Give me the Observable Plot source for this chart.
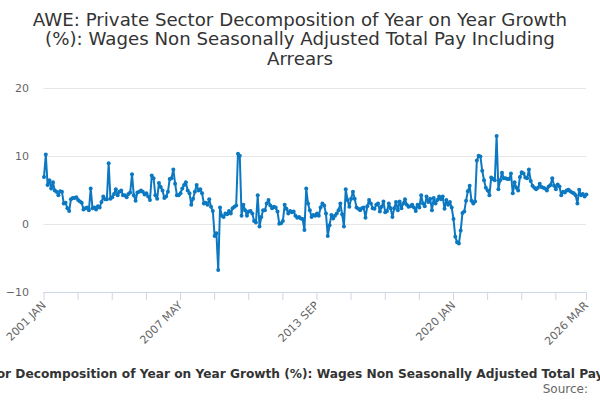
<!DOCTYPE html>
<html>
<head>
<meta charset="utf-8">
<script src="https://cdn.jsdelivr.net/npm/d3@7"></script>
<script src="https://cdn.jsdelivr.net/npm/@observablehq/plot@0.6"></script>
<style>
  html, body { margin: 0; padding: 0; background: #fff; }
  body { width: 600px; height: 400px; overflow: hidden; position: relative; font-family: "DejaVu Sans", sans-serif; }
  #title { position: absolute; top: 10px; left: 0; width: 600px; text-align: center; font-size: 18.2px; line-height: 19.3px; color: #333; }
  #chart { position: absolute; top: 72px; left: 0; }
  #legend { position: absolute; top: 367px; left: 0; width: 600px; display: flex; justify-content: center; }
  #legend span { white-space: nowrap; font-size: 12.2px; font-weight: bold; color: #333; line-height: 14px; }
  #source { position: absolute; top: 382px; right: 12px; font-size: 12px; color: #666; line-height: 14px; white-space: nowrap; }
</style>
</head>
<body>
<div id="title">AWE: Private Sector Decomposition of Year on Year Growth<br>(%): Wages Non Seasonally Adjusted Total Pay Including<br>Arrears</div>
<div id="chart"></div>
<div id="legend"><span>AWE: Private Sector Decomposition of Year on Year Growth (%): Wages Non Seasonally Adjusted Total Pay Including Arrears</span></div>
<div id="source">Source:</div>
<script>
// Monthly values, 2001 JAN .. 2026 MAR
const values2001to2005 = [7.0,10.3,5.8,6.5,5.3,6.2,5.0,4.8,4.3,4.9, 4.8,3.1,3.2,2.4,2.0,3.7,3.9,3.9,4.0,3.6, 3.4,3.2,2.2,2.4,2.5,2.1,5.3,2.4,2.5,2.2, 2.7,2.5,3.3,4.1,3.7,3.7,9.0,3.8,4.0,4.5, 5.2,4.3,4.8,5.0,4.3,4.3,4.0,4.5,4.7,7.4, 4.3,3.5,4.7,4.8];
const values2005to2010 = [5.0,4.8,4.4,4.6,4.1,3.6,7.2,6.8,4.3,3.8, 6.1,5.5,5.0,3.9,4.1,4.8,6.7,6.8,8.1,6.0, 4.3,4.3,4.6,5.3,5.8,6.2,5.0,4.6,2.9,3.8, 4.8,5.8,5.0,5.2,4.6,3.1,3.2,2.9,3.7,2.6, 2.0,-1.7,-1.3,-6.7,2.5,1.3,1.1,1.6,1.5,2.0, 1.6,2.4,2.6,2.8,10.4,10.1];
const values2010to2014 = [1.3,2.9,2.1,1.3,1.9,2.0,1.6,0.5,0.3,4.3, -0.3,1.1,2.1,2.1,3.1,3.6,2.8,2.4,2.6,2.5, 1.9,0.1,0.2,0.5,2.9,2.3,1.6,2.0,1.8,1.9, 1.3,1.0,1.1,0.9,0.8,-0.8,5.3,3.1,2.1,1.1, 1.4,1.3,1.6,1.3,2.5,3.1,2.8,1.6,-1.7,-0.1, 1.4,0.9,1.3,1.6,2.1];
const values2014to2019 = [3.1,1.5,-0.3,5.2,3.6,2.6,3.8,4.8,3.8,2.5, 2.3,2.1,2.4,2.5,1.0,2.7,3.6,3.1,2.4,2.3, 2.9,3.1,1.9,2.6,3.4,1.8,2.0,3.1,2.4,1.1, 2.4,3.3,2.1,3.4,2.4,3.1,3.7,2.9,2.6,2.7, 2.9,2.5,2.0,2.9,2.5,4.3,3.1,2.7,4.1,3.3, 3.8,2.1,3.9,3.1,3.6,4.1];
const values2019to2023 = [3.7,4.1,2.3,3.6,2.9,3.3,2.5,0.8,-1.8,-2.6, -2.8,-0.9,1.7,1.9,3.5,4.9,5.7,3.5,3.1,3.4, 9.4,10.1,10.0,7.9,6.5,5.4,5.0,4.3,6.9,6.7, 6.5,13.0,5.2,6.5,7.6,6.8,6.8,6.7,6.7,7.5, 4.6,6.2,5.4,5.0,7.0,7.7,7.5,6.9,6.8];
const values2023to2026 = [8.1,6.4,5.7,5.4,5.2,5.4,6.0,5.5,5.4,5.3, 5.0,5.6,5.8,6.8,5.7,5.2,5.9,5.6,4.3,4.8, 4.7,5.0,5.1,4.9,4.7,4.6,4.3,3.1,5.1,4.3, 4.5,4.1,4.4];

const monthNames = ["JAN","FEB","MAR","APR","MAY","JUN","JUL","AUG","SEP","OCT","NOV","DEC"];
const startYear = 2001;
const tickLabels = ["2001 JAN","2007 MAY","2013 SEP","2020 JAN","2026 MAR"];
const yTicks = [-10, 0, 10, 20];

const values = [].concat(values2001to2005, values2005to2010, values2010to2014, values2014to2019, values2019to2023, values2023to2026);
const categories = values.map((_, i) => `${startYear + Math.floor(i / 12)} ${monthNames[i % 12]}`);
const data = values.map((v, i) => ({label: categories[i], value: v}));

const tickStep = 19;
const xTickValues = categories.filter((_, i) => i % tickStep === 0);
if (!xTickValues.includes(categories[categories.length - 1])) xTickValues.push(categories[categories.length - 1]);

const lineColor = "#0b78c1";

const chart = Plot.plot({
  width: 600,
  height: 290,
  marginTop: 16,
  marginBottom: 70,
  marginLeft: 43.5,
  marginRight: 14.1,
  style: {fontFamily: "'DejaVu Sans', sans-serif", fontSize: "11px", color: "#666", background: "transparent", overflow: "visible"},
  x: {type: "point", domain: categories, padding: 0},
  y: {domain: [-10, 20]},
  marks: [
    Plot.ruleY([0, 10, 20], {stroke: "#e6e6e6", strokeWidth: 1}),
    Plot.ruleY([-10], {stroke: "#ccd6eb", strokeWidth: 1}),
    Plot.axisY({ticks: yTicks, tickSize: 0, tickPadding: 15, label: null, fill: "#666"}),
    Plot.axisX({ticks: xTickValues, tickFormat: d => tickLabels.includes(d) ? d : "", tickRotate: -45, tickSize: 8, tickPadding: 3, stroke: "#ccd6eb", fill: "#666", label: null}),
    Plot.line(data, {x: "label", y: "value", stroke: lineColor, strokeWidth: 2}),
    Plot.dot(data, {x: "label", y: "value", r: 2, fill: lineColor, stroke: "none"})
  ]
});
document.getElementById("chart").appendChild(chart);
</script>
</body>
</html>
